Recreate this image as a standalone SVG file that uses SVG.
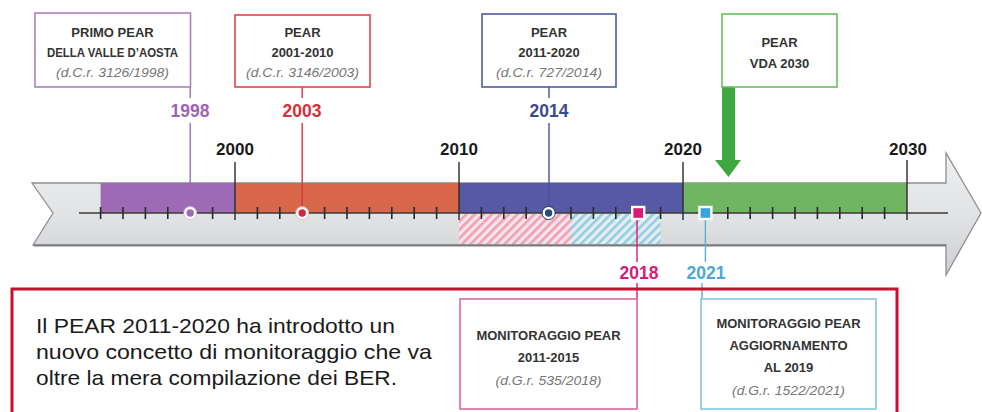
<svg xmlns="http://www.w3.org/2000/svg" width="982" height="412" viewBox="0 0 982 412">
<defs>
  <linearGradient id="band" x1="0" y1="0" x2="0" y2="1">
    <stop offset="0" stop-color="#eeeff0"/>
    <stop offset="0.5" stop-color="#e2e3e5"/>
    <stop offset="1" stop-color="#cdcfd2"/>
  </linearGradient>
  <pattern id="hpink" width="6" height="6" patternUnits="userSpaceOnUse" patternTransform="rotate(45)">
    <rect width="6" height="6" fill="#f6e4ea"/>
    <rect width="2.6" height="6" fill="#ef9fb6"/>
  </pattern>
  <pattern id="hblue" width="6" height="6" patternUnits="userSpaceOnUse" patternTransform="rotate(45)">
    <rect width="6" height="6" fill="#e4eef2"/>
    <rect width="2.6" height="6" fill="#93cbe2"/>
  </pattern>
</defs>
<style>
  .hd{font-family:"Liberation Sans",Arial,sans-serif;font-weight:bold;font-size:13px;fill:#333;text-anchor:middle}
  .ref{font-family:"Liberation Sans",Arial,sans-serif;font-style:italic;font-size:12.5px;fill:#777;text-anchor:middle}
  .yr{font-family:"Liberation Sans",Arial,sans-serif;font-weight:bold;font-size:17.5px;text-anchor:middle}
  .dec{font-family:"Liberation Sans",Arial,sans-serif;font-weight:bold;font-size:17px;fill:#1a1a1a;text-anchor:middle}
  .main{font-family:"Liberation Sans",Arial,sans-serif;font-size:21px;fill:#1a1a1a}
  .box{fill:#fff;stroke-width:1.6}
  .tick{stroke:#2a2a2a;stroke-width:1.6}
  .major{stroke:#2a2a2a;stroke-width:1.4}
</style>
<rect width="982" height="412" fill="#fff"/>

<g id="timeline">
  <path d="M32,183 L946,183 L946,153 L981,213 L946,275 L946,245 L33,245 L53,213 Z" fill="url(#band)" stroke="#8e8f91" stroke-width="1.3"/>
  <line x1="34" y1="245.5" x2="946" y2="245.5" stroke="#7d7e80" stroke-width="2"/>
  <rect x="100.6" y="183" width="134.4" height="30" fill="#9e6ab6"/>
  <rect x="235" y="183" width="224" height="30" fill="#d8674a"/>
  <rect x="459" y="183" width="224" height="30" fill="#5759a7"/>
  <rect x="683" y="183" width="224" height="30" fill="#6fb562"/>
  <rect x="459" y="214" width="112" height="30" fill="url(#hpink)"/>
  <rect x="571" y="214" width="89.6" height="30" fill="url(#hblue)"/>
  <line x1="79" y1="213" x2="948" y2="213" stroke="#3a3a3a" stroke-width="1.6"/>
  <g class="tick">
    <line x1="100.6" y1="207" x2="100.6" y2="219"/><line x1="123" y1="207" x2="123" y2="219"/><line x1="145.4" y1="207" x2="145.4" y2="219"/><line x1="167.8" y1="207" x2="167.8" y2="219"/><line x1="212.6" y1="207" x2="212.6" y2="219"/>
    <line x1="257.4" y1="207" x2="257.4" y2="219"/><line x1="279.8" y1="207" x2="279.8" y2="219"/><line x1="324.6" y1="207" x2="324.6" y2="219"/><line x1="347" y1="207" x2="347" y2="219"/><line x1="369.4" y1="207" x2="369.4" y2="219"/><line x1="391.8" y1="207" x2="391.8" y2="219"/><line x1="414.2" y1="207" x2="414.2" y2="219"/><line x1="436.6" y1="207" x2="436.6" y2="219"/>
    <line x1="481.4" y1="207" x2="481.4" y2="219"/><line x1="503.8" y1="207" x2="503.8" y2="219"/><line x1="526.2" y1="207" x2="526.2" y2="219"/><line x1="571" y1="207" x2="571" y2="219"/><line x1="593.4" y1="207" x2="593.4" y2="219"/><line x1="615.8" y1="207" x2="615.8" y2="219"/><line x1="660.6" y1="207" x2="660.6" y2="219"/>
    <line x1="727.8" y1="207" x2="727.8" y2="219"/><line x1="750.2" y1="207" x2="750.2" y2="219"/><line x1="772.6" y1="207" x2="772.6" y2="219"/><line x1="795" y1="207" x2="795" y2="219"/><line x1="817.4" y1="207" x2="817.4" y2="219"/><line x1="839.8" y1="207" x2="839.8" y2="219"/><line x1="862.2" y1="207" x2="862.2" y2="219"/><line x1="884.6" y1="207" x2="884.6" y2="219"/>
  </g>
  <g class="major">
    <line x1="235" y1="162" x2="235" y2="220"/>
    <line x1="459" y1="162" x2="459" y2="220"/>
    <line x1="683" y1="162" x2="683" y2="220"/>
    <line x1="907" y1="160" x2="907" y2="220"/>
  </g>
  <text class="dec" x="235" y="155">2000</text>
  <text class="dec" x="459" y="155">2010</text>
  <text class="dec" x="683" y="155">2020</text>
  <text class="dec" x="908" y="155">2030</text>
</g>

<g id="connectors">
  <line x1="190.2" y1="87" x2="190.2" y2="98" stroke="#9e6ab6" stroke-width="1.4"/>
  <line x1="190.2" y1="123" x2="190.2" y2="209" stroke="#9e6ab6" stroke-width="1.4"/>
  <line x1="302.2" y1="87" x2="302.2" y2="98" stroke="#d0393c" stroke-width="1.4"/>
  <line x1="302.2" y1="123" x2="302.2" y2="209" stroke="#d0393c" stroke-width="1.4"/>
  <line x1="549" y1="87" x2="549" y2="98" stroke="#44529a" stroke-width="1.4"/>
  <line x1="549" y1="123" x2="549" y2="209" stroke="#44529a" stroke-width="1.4"/>
  <line x1="637" y1="218" x2="637" y2="262" stroke="#d81b78" stroke-width="1.4"/>
  <line x1="637" y1="283" x2="637" y2="299" stroke="#d81b78" stroke-width="1.4"/>
  <line x1="705.4" y1="218" x2="705.4" y2="262" stroke="#5aaed8" stroke-width="1.4"/>
  <line x1="702" y1="283" x2="702" y2="299" stroke="#5aaed8" stroke-width="1.4"/>
  <path d="M722,87 H735 V160 H741 L728.5,177 L715,160 H722 Z" fill="#3da83f"/>
</g>

<g id="markers">
  <circle cx="190.2" cy="213" r="5" fill="#9e6ab6" stroke="#fff" stroke-width="2.6"/>
  <circle cx="190.2" cy="213" r="6.5" fill="none" stroke="#d9b8e6" stroke-width="0.8"/>
  <circle cx="302.2" cy="213" r="5" fill="#cf2a3a" stroke="#fff" stroke-width="2.6"/>
  <circle cx="302.2" cy="213" r="6.5" fill="none" stroke="#e9b8b8" stroke-width="0.8"/>
  <circle cx="548.6" cy="213" r="5" fill="#2b4a7c" stroke="#fff" stroke-width="2.6"/>
  <circle cx="548.6" cy="213" r="6.6" fill="none" stroke="#2b3d66" stroke-width="1"/>
  <rect x="632.2" y="207" width="12" height="12" fill="#d81b78" stroke="#fff" stroke-width="2.4"/>
  <rect x="699.4" y="207" width="12" height="12" fill="#3aa2dc" stroke="#fff" stroke-width="2.4"/>
</g>

<g id="n1998">
  <rect class="box" x="35" y="13" width="155.5" height="74" stroke="#a883bd"/>
  <text class="hd" x="112.5" y="37">PRIMO PEAR</text>
  <text class="hd" x="112.5" y="57" textLength="131" lengthAdjust="spacingAndGlyphs">DELLA VALLE D’AOSTA</text>
  <text class="ref" x="112.5" y="77" textLength="113" lengthAdjust="spacingAndGlyphs">(d.C.r. 3126/1998)</text>
  <text class="yr" x="190" y="117" fill="#9e62b8">1998</text>
</g>
<g id="n2003">
  <rect class="box" x="235" y="15" width="135" height="72" stroke="#d6494b"/>
  <text class="hd" x="302.5" y="37">PEAR</text>
  <text class="hd" x="302.5" y="57">2001-2010</text>
  <text class="ref" x="302.5" y="77" textLength="113" lengthAdjust="spacingAndGlyphs">(d.C.r. 3146/2003)</text>
  <text class="yr" x="302" y="117" fill="#d3303a">2003</text>
</g>
<g id="n2014">
  <rect class="box" x="482" y="14" width="134" height="73" stroke="#4e5c9c"/>
  <text class="hd" x="549" y="37">PEAR</text>
  <text class="hd" x="549" y="57">2011-2020</text>
  <text class="ref" x="549" y="77" textLength="106" lengthAdjust="spacingAndGlyphs">(d.C.r. 727/2014)</text>
  <text class="yr" x="549" y="117" fill="#3c4a8c">2014</text>
</g>
<g id="n2030">
  <rect class="box" x="722" y="14" width="115" height="73" stroke="#6cbd62"/>
  <text class="hd" x="779.5" y="47">PEAR</text>
  <text class="hd" x="779.5" y="68">VDA 2030</text>
</g>

<g id="note">
  <rect x="12" y="289" width="885" height="140" fill="none" stroke="#c8102e" stroke-width="3"/>
  <text class="main" x="36" y="333" textLength="359" lengthAdjust="spacingAndGlyphs">Il PEAR 2011-2020 ha introdotto un</text>
  <text class="main" x="36" y="359" textLength="396" lengthAdjust="spacingAndGlyphs">nuovo concetto di monitoraggio che va</text>
  <text class="main" x="36" y="385" textLength="361" lengthAdjust="spacingAndGlyphs">oltre la mera compilazione dei BER.</text>
</g>

<g id="n2018">
  <text class="yr" x="639" y="279" fill="#d81b78">2018</text>
  <rect class="box" x="460" y="299" width="177" height="110" stroke="#d66aa2"/>
  <text class="hd" x="548.5" y="340">MONITORAGGIO PEAR</text>
  <text class="hd" x="548.5" y="362">2011-2015</text>
  <text class="ref" x="548.5" y="385" textLength="106" lengthAdjust="spacingAndGlyphs">(d.G.r. 535/2018)</text>
</g>
<g id="n2021">
  <text class="yr" x="706" y="279" fill="#4aa8d8">2021</text>
  <rect class="box" x="701" y="299" width="175" height="110" stroke="#84c6e0"/>
  <text class="hd" x="788.5" y="328">MONITORAGGIO PEAR</text>
  <text class="hd" x="788.5" y="350">AGGIORNAMENTO</text>
  <text class="hd" x="788.5" y="372">AL 2019</text>
  <text class="ref" x="788.5" y="395" textLength="113" lengthAdjust="spacingAndGlyphs">(d.G.r. 1522/2021)</text>
</g>
</svg>
